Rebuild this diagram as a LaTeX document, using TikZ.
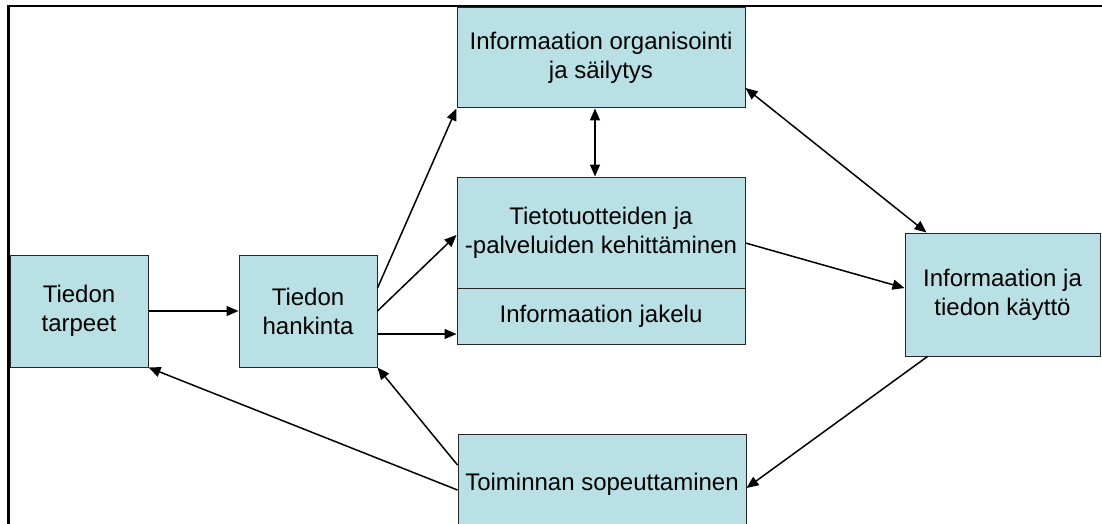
\documentclass[tikz,border=0pt]{standalone}
\usepackage{fontspec}
\setmainfont{Liberation Sans}
\usetikzlibrary{arrows.meta,calc}
\definecolor{boxfill}{RGB}{185,224,228}
\begin{document}
\begin{tikzpicture}[x=1pt,y=-1pt,
  box/.style={draw=black!85, fill=boxfill, line width=1pt, inner sep=0pt,
    align=center, font=\fontsize{24}{29}\selectfont},
  arr/.style={-{Triangle[length=12pt,width=10pt]}, line width=1.5pt},
  darr/.style={{Triangle[length=12pt,width=10pt]}-{Triangle[length=12pt,width=10pt]}, line width=1.5pt}]
\useasboundingbox (0,0) rectangle (1102,524);
\clip (0,0) rectangle (1102,524);
\fill[white] (0,0) rectangle (1102,524);
% nodes
\node[box, minimum width=138pt, minimum height=112pt] (tarpeet) at (79,311) {Tiedon\\tarpeet};
\node[box, minimum width=138pt, minimum height=112pt] (hank) at (308,311) {Tiedon\\hankinta};
\node[box, minimum width=288pt, minimum height=100pt] (org) at (601,58) {Informaation organisointi\\ja säilytys};
\node[box, minimum width=288pt, minimum height=111pt] (tieto) at (601,232.5) {Tietotuotteiden ja\\-palveluiden kehittäminen};
\node[box, minimum width=288pt, minimum height=56pt] (jakelu) at (601,316) {Informaation jakelu};
\node[box, minimum width=195pt, minimum height=123pt] (kaytto) at (1002.5,294.5) {Informaation ja\\tiedon käyttö};
\node[box, minimum width=288pt, minimum height=100pt] (toim) at (602,484) {Toiminnan sopeuttaminen};
% connectors
\draw[arr] (tarpeet.east) -- (hank.west);
\draw[arr] ($(hank.east)+(0,-23)$) -- (org.south west);
\draw[arr] (hank.east) -- ($(tieto.west)+(0,2.5)$);
\draw[arr] ($(hank.east)+(0,23)$) -- ($(jakelu.west)+(0,18)$);
\draw[darr] ($(org.south)+(-6,0)$) -- ($(tieto.north)+(-6,0)$);
\draw[darr] ($(org.east)+(0,30)$) -- ($(kaytto.north west)+(22,0)$);
\draw[arr] ($(tieto.east)+(0,10.5)$) -- ($(kaytto.west)+(0,-6.5)$);
\draw[arr] ($(kaytto.south west)+(23,0)$) -- ($(toim.east)+(0,4)$);
\draw[arr] ($(toim.west)+(0,-19)$) -- (hank.south east);
\draw[arr] ($(toim.west)+(0,6)$) -- (tarpeet.south east);
% frame
\draw[line width=2.6pt] (8.5,530) -- (8.5,6) -- (1110,6);
\end{tikzpicture}
\end{document}
